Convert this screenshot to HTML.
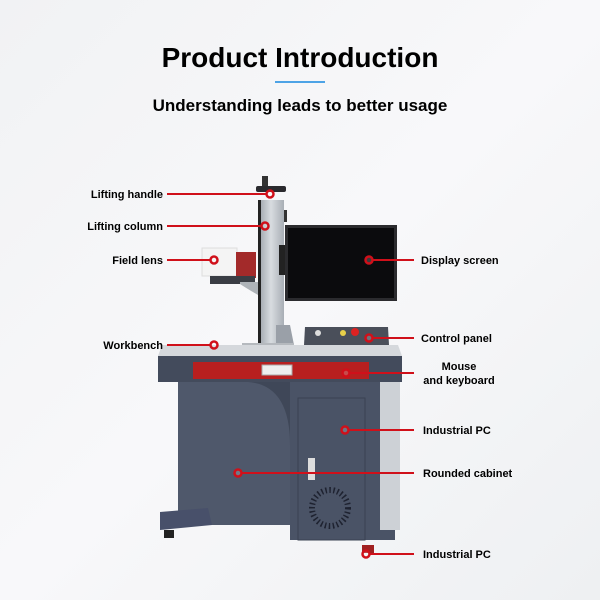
<!DOCTYPE html>
<html><head><meta charset="utf-8"><style>
html,body{margin:0;padding:0;background:#f4f5f7}
svg{display:block}
text{font-family:"Liberation Sans",Arial,sans-serif;font-weight:bold;fill:#000}
</style></head><body>
<svg width="600" height="600" viewBox="0 0 600 600">
<defs>
<linearGradient id="bg" x1="0" y1="0" x2="1" y2="1"><stop offset="0" stop-color="#f1f2f4"/><stop offset="0.5" stop-color="#f8f8fa"/><stop offset="1" stop-color="#eef0f2"/></linearGradient>
<linearGradient id="col" x1="0" x2="1"><stop offset="0" stop-color="#9aa0a8"/><stop offset="0.5" stop-color="#d8dce0"/><stop offset="1" stop-color="#a8aeb5"/></linearGradient>
</defs>
<rect width="600" height="600" fill="url(#bg)"/>
<text x="300" y="67" font-size="28" text-anchor="middle">Product Introduction</text>
<rect x="275" y="81" width="50" height="2" fill="#4da3e6"/>
<text x="300" y="111" font-size="17" text-anchor="middle">Understanding leads to better usage</text>

<rect x="262" y="176" width="6" height="10" fill="#333"/>
<rect x="256" y="186" width="30" height="6" rx="2" fill="#2a2a2e"/>
<rect x="258" y="200" width="26" height="146" fill="url(#col)"/>
<rect x="258" y="200" width="3" height="145" fill="#222"/>
<rect x="284" y="210" width="3" height="12" fill="#333"/>
<path d="M276 325 L290 325 L294 345 L276 345Z" fill="#9aa0a8"/>
<rect x="242" y="343" width="52" height="5" fill="#b5b9be"/>
<rect x="202" y="248" width="35" height="28" fill="#f4f4f4" stroke="#ddd"/>
<rect x="236" y="252" width="20" height="26" fill="#a32a2a"/>
<rect x="210" y="276" width="45" height="8" fill="#3a3d44"/>
<path d="M240 282 L258 282 L258 295 Q246 288 240 284Z" fill="#aeb3b8"/>
<rect x="279" y="245" width="8" height="30" fill="#222"/>
<rect x="285" y="225" width="112" height="76" fill="#2b2b2e"/>
<rect x="288" y="228" width="106" height="70" fill="#0b0b0d"/>
<path d="M305 327 L388 327 L389 345 L304 345Z" fill="#4a4f5a"/>
<circle cx="318" cy="333" r="3" fill="#ddd"/><circle cx="343" cy="333" r="3" fill="#e8d04a"/><circle cx="355" cy="332" r="4" fill="#d22"/>
<path d="M162 345 L398 345 L402 356 L158 356Z" fill="#d5d8dc"/>
<rect x="158" y="356" width="244" height="26" fill="#434b5c"/>
<rect x="193" y="362" width="176" height="17" fill="#b81f1f"/>
<rect x="262" y="365" width="30" height="10" fill="#eee" stroke="#aaa"/>
<rect x="178" y="382" width="217" height="143" fill="#3f4758"/>
<path d="M178 382 L248 382 Q290 385 290 445 L290 525 L178 525Z" fill="#4f586b"/>
<rect x="290" y="382" width="105" height="158" fill="#4a5366"/>
<rect x="380" y="382" width="20" height="148" fill="#cdd1d6"/>
<rect x="298" y="398" width="67" height="142" fill="#4a5366" stroke="#3a4252"/>
<rect x="308" y="458" width="7" height="22" fill="#ddd"/>
<circle cx="330" cy="508" r="18" fill="none" stroke="#1e2230" stroke-width="6" stroke-dasharray="1.5 2.5"/>
<path d="M160 512 L208 508 L212 525 L160 530Z" fill="#48506a"/>
<rect x="164" y="530" width="10" height="8" fill="#222"/>
<rect x="362" y="545" width="12" height="8" fill="#a02020"/>

<g stroke="#d0101a" stroke-width="2" fill="none">
<line x1="167" y1="194" x2="266" y2="194"/>
<line x1="167" y1="226" x2="261" y2="226"/>
<line x1="167" y1="260" x2="210" y2="260"/>
<line x1="167" y1="345" x2="210" y2="345"/>
<line x1="373" y1="260" x2="414" y2="260"/>
<line x1="373" y1="338" x2="414" y2="338"/>
<line x1="350" y1="373" x2="414" y2="373"/>
<line x1="349" y1="430" x2="414" y2="430"/>
<line x1="242" y1="473" x2="414" y2="473"/>
<line x1="370" y1="554" x2="414" y2="554"/>
</g>
<g stroke="#d0101a" stroke-width="2.5" fill="#fff" fill-opacity="0.2">
<circle cx="270" cy="194" r="3.5"/><circle cx="265" cy="226" r="3.5"/><circle cx="214" cy="260" r="3.5"/><circle cx="214" cy="345" r="3.5"/>
<circle cx="369" cy="260" r="3.5"/><circle cx="369" cy="338" r="3.5"/><circle cx="346" cy="373" r="3.5"/><circle cx="345" cy="430" r="3.5"/><circle cx="238" cy="473" r="3.5"/><circle cx="366" cy="554" r="3.5"/>
</g>
<g font-size="11">
<text x="163" y="198" text-anchor="end">Lifting handle</text>
<text x="163" y="230" text-anchor="end">Lifting column</text>
<text x="163" y="264" text-anchor="end">Field lens</text>
<text x="163" y="349" text-anchor="end">Workbench</text>
<text x="421" y="264">Display screen</text>
<text x="421" y="342">Control panel</text>
<text x="459" y="370" text-anchor="middle">Mouse</text>
<text x="459" y="384" text-anchor="middle">and keyboard</text>
<text x="423" y="434">Industrial PC</text>
<text x="423" y="477">Rounded cabinet</text>
<text x="423" y="558">Industrial PC</text>
</g>
</svg>
</body></html>
